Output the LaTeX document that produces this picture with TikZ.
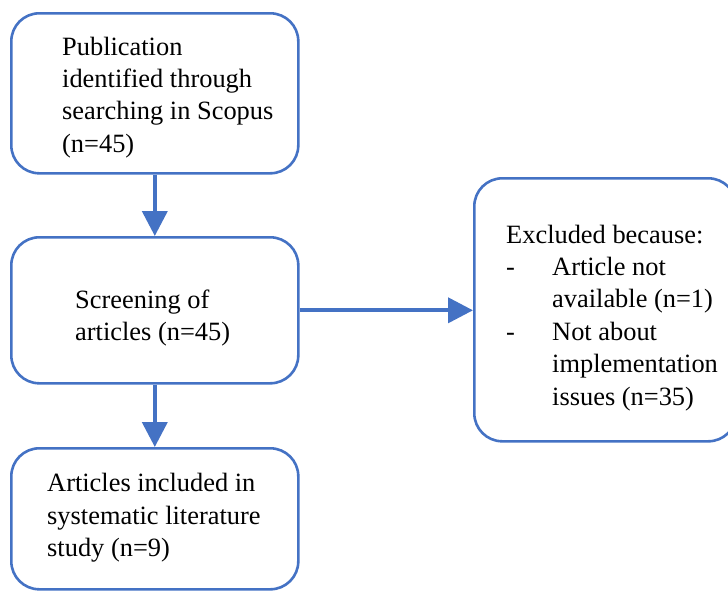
\documentclass[tikz,border=0pt]{standalone}
\usepackage{fontspec}
\setmainfont{Liberation Serif}
\usetikzlibrary{arrows.meta}
\definecolor{ofblue}{HTML}{4472C4}
\begin{document}
\begin{tikzpicture}[x=1pt,y=-1pt,
  flowbox/.style={draw=ofblue, line width=2.6pt, rounded corners=28pt, inner sep=0pt, anchor=north west},
  flowtext/.style={font=\fontsize{26.4}{32.4}\selectfont, inner sep=0pt, anchor=base west, align=left},
  flowarrow/.style={draw=ofblue, line width=4pt, -{Triangle[width=25pt,length=25pt]}}]
\useasboundingbox (0,0) rectangle (728,590);
\clip (0,0) rectangle (728,590);
\node[flowbox, minimum width=287pt, minimum height=160pt] (b1) at (10,12) {};
\node[flowbox, minimum width=287pt, minimum height=146pt] (b2) at (10,236) {};
\node[flowbox, minimum width=262pt, minimum height=263pt] (b3) at (473,177) {};
\node[flowbox, minimum width=287pt, minimum height=141pt] (b4) at (10,447) {};
\draw[flowarrow] (b1.south) -- (b2.north);
\draw[flowarrow] (b2.south) -- (b4.north);
\draw[flowarrow] (b2.east) -- (b2.east -| b3.west);
\node[flowtext] (t1) at (62,152.2) {Publication\\identified through\\searching in Scopus\\(n=45)};
\node[flowtext] (t2) at (75,340.5) {Screening of\\articles (n=45)};
\node[flowtext] (t3) at (506,405) {Excluded because:\\\makebox[46pt][l]{-}Article not\\\hspace*{46pt}available (n=1)\\\makebox[46pt][l]{-}Not about\\\hspace*{46pt}implementation\\\hspace*{46pt}issues (n=35)};
\node[flowtext] (t4) at (47,556.5) {Articles included in\\systematic literature\\study (n=9)};
\end{tikzpicture}
\end{document}
